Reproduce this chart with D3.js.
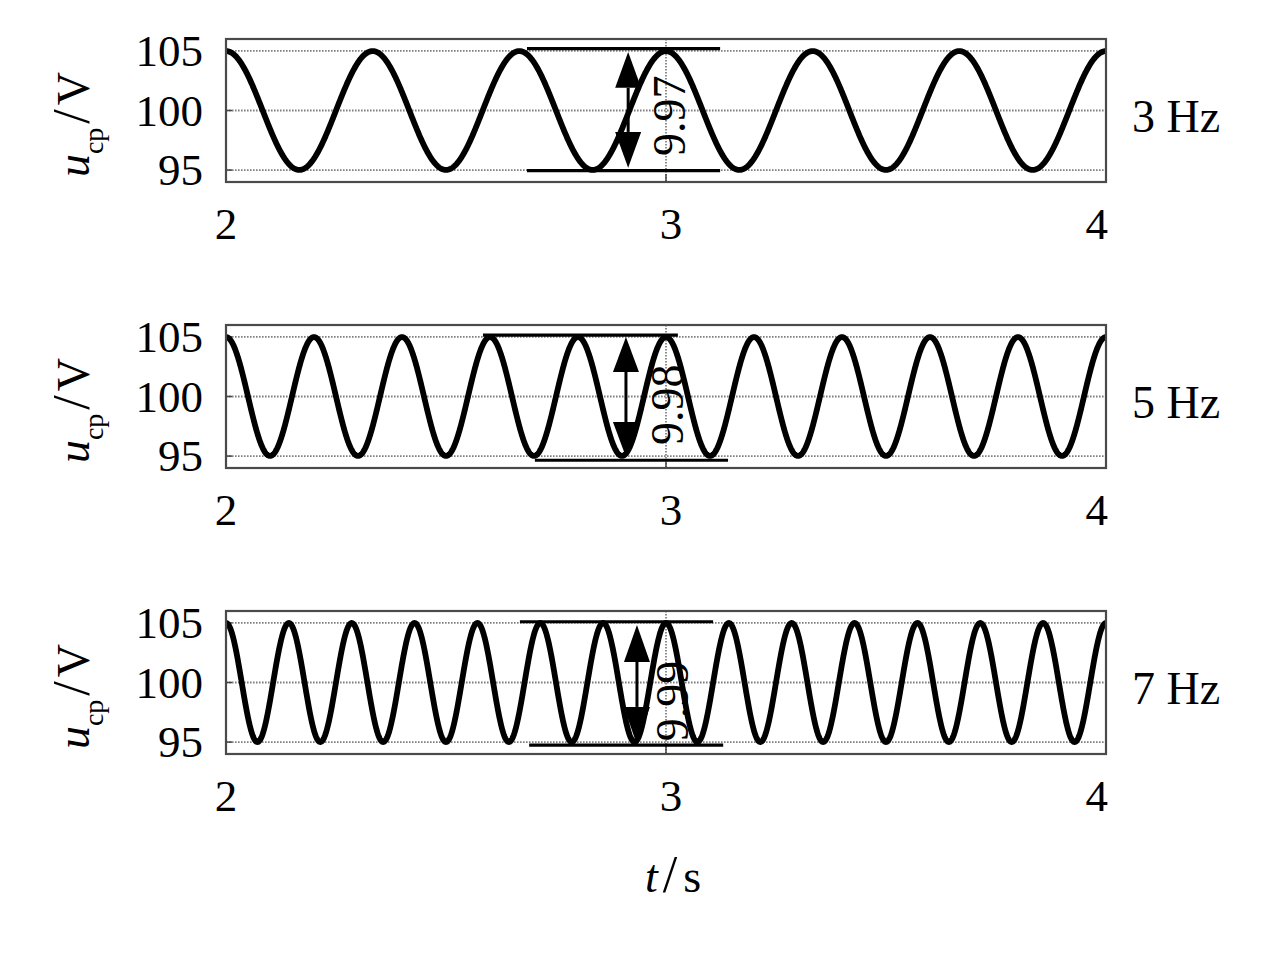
<!DOCTYPE html>
<html>
<head>
<meta charset="utf-8">
<script src="https://cdn.jsdelivr.net/npm/d3@7"></script>
<style>
  html, body { margin: 0; padding: 0; background: #fff; }
  svg { display: block; }
  text { font-family: "Liberation Serif", "Times New Roman", serif; fill: #000; }
</style>
</head>
<body>
<svg id="chart" width="1284" height="975"></svg>
<script>
// ---- data ----
const timeDomain = [2, 4];
const xTicks = [2, 3, 4];
const yTicks = [95, 100, 105];
const voltDomain = [94, 106];
const frequencies = [3, 5, 7];            // Hz
const meanVoltage = [100, 100, 100];      // V
const peakToPeak = [9.97, 9.98, 9.99];    // V
const panelLabels = ["3 Hz", "5 Hz", "7 Hz"];
const ppLabels = ["9.97", "9.98", "9.99"];
// annotation guide lines (value, t-start, t-end)
const annTopV = [105.2, 105.15, 105.1];
const annTopT0 = [2.684, 2.584, 2.668];
const annTopT1 = [3.123, 3.027, 3.107];
const annBotV = [94.95, 94.65, 94.75];
const annBotT0 = [2.684, 2.702, 2.689];
const annBotT1 = [3.123, 3.141, 3.130];
// double arrows
const arrowT = [2.914, 2.909, 2.934];
const arrowTopTip = [104.9, 105.0, 104.83];
const arrowTopBase = [101.9, 102.06, 101.72];
const arrowBotBase = [98.2, 97.86, 97.95];
const arrowBotTip = [95.2, 94.93, 94.76];
// pp label position (baseline side after rotation)
const ppLabelT = [3.043, 3.039, 3.05];
const ppLabelV = [99.55, 99.3, 98.45];

// ---- layout ----
const svg = d3.select("#chart");
const left = 226, plotW = 880, plotH = 143;
const panelTops = [39, 325, 611];

const x = d3.scaleLinear().domain(timeDomain).range([left, left + plotW]);

const sampleT = d3.range(0, 2001).map(i => timeDomain[0] + i * (timeDomain[1] - timeDomain[0]) / 2000);

svg.append("defs").append("clipPath").attr("id", "clipAll")
  .selectAll("rect").data(panelTops).join("rect")
  .attr("x", left).attr("y", d => d).attr("width", plotW).attr("height", plotH);

panelTops.forEach((top, i) => {
  const y = d3.scaleLinear().domain(voltDomain).range([top + plotH, top]);
  const g = svg.append("g");

  // horizontal dotted gridlines
  g.selectAll(".hgrid").data(yTicks).join("line")
    .attr("x1", left).attr("x2", left + plotW)
    .attr("y1", d => y(d)).attr("y2", d => y(d))
    .attr("stroke", "#808080").attr("stroke-width", 1.8)
    .attr("stroke-dasharray", "1.6,1.4");
  // vertical dotted gridline at interior ticks
  g.selectAll(".vgrid").data(xTicks.slice(1, -1)).join("line")
    .attr("x1", d => x(d)).attr("x2", d => x(d))
    .attr("y1", top).attr("y2", top + plotH)
    .attr("stroke", "#808080").attr("stroke-width", 1.8)
    .attr("stroke-dasharray", "1.6,1.4");
  // small ticks
  g.selectAll(".yt").data(yTicks).join("line")
    .attr("x1", left).attr("x2", left + 6)
    .attr("y1", d => y(d)).attr("y2", d => y(d))
    .attr("stroke", "#444").attr("stroke-width", 1.5);
  g.selectAll(".xt").data(xTicks.slice(1, -1)).join("line")
    .attr("x1", d => x(d)).attr("x2", d => x(d))
    .attr("y1", top + plotH - 8).attr("y2", top + plotH)
    .attr("stroke", "#444").attr("stroke-width", 1.5);

  // waveform
  const amp = peakToPeak[i] / 2;
  const pts = sampleT.map(t => [t, meanVoltage[i] + amp * Math.cos(2 * Math.PI * frequencies[i] * (t - timeDomain[0]))]);
  g.append("path")
    .datum(pts)
    .attr("clip-path", "url(#clipAll)")
    .attr("fill", "none").attr("stroke", "#000").attr("stroke-width", 5.8)
    .attr("stroke-linejoin", "round")
    .attr("d", d3.line().x(d => x(d[0])).y(d => y(d[1])));

  // annotation guide lines
  g.append("line")
    .attr("x1", x(annTopT0[i])).attr("x2", x(annTopT1[i]))
    .attr("y1", y(annTopV[i])).attr("y2", y(annTopV[i]))
    .attr("stroke", "#000").attr("stroke-width", 3.2);
  g.append("line")
    .attr("x1", x(annBotT0[i])).attr("x2", x(annBotT1[i]))
    .attr("y1", y(annBotV[i])).attr("y2", y(annBotV[i]))
    .attr("stroke", "#000").attr("stroke-width", 3.2);

  // double arrow
  const ax = x(arrowT[i]);
  const hw = 13;
  g.append("line")
    .attr("x1", ax).attr("x2", ax)
    .attr("y1", y(arrowTopBase[i])).attr("y2", y(arrowBotBase[i]))
    .attr("stroke", "#000").attr("stroke-width", 3);
  g.append("path")
    .attr("d", `M${ax},${y(arrowTopTip[i])}L${ax + hw},${y(arrowTopBase[i])}L${ax - hw},${y(arrowTopBase[i])}Z`)
    .attr("fill", "#000");
  g.append("path")
    .attr("d", `M${ax},${y(arrowBotTip[i])}L${ax + hw},${y(arrowBotBase[i])}L${ax - hw},${y(arrowBotBase[i])}Z`)
    .attr("fill", "#000");

  // rotated peak-to-peak label
  g.append("text")
    .attr("transform", `translate(${x(ppLabelT[i])},${y(ppLabelV[i])}) rotate(-90)`)
    .attr("text-anchor", "middle")
    .attr("font-size", 46)
    .attr("fill", "#111")
    .text(ppLabels[i]);

  // frame
  g.append("rect")
    .attr("x", left).attr("y", top).attr("width", plotW).attr("height", plotH)
    .attr("fill", "none").attr("stroke", "#4a4a4a").attr("stroke-width", 2.2);

  // y tick labels
  g.selectAll(".ytl").data(yTicks).join("text")
    .attr("x", 203).attr("y", d => y(d) + 15)
    .attr("text-anchor", "end").attr("font-size", 45)
    .text(d => d);

  // x tick labels
  g.selectAll(".xtl").data(xTicks).join("text")
    .attr("x", (d, k) => k === xTicks.length - 1 ? x(d) + 2 : x(d) + (k === 0 ? 0 : 5))
    .attr("y", top + 200)
    .attr("text-anchor", (d, k) => k === xTicks.length - 1 ? "end" : "middle")
    .attr("font-size", 45)
    .text(d => d);

  // frequency label
  g.append("text")
    .attr("x", 1132).attr("y", top + 93)
    .attr("font-size", 46)
    .text(panelLabels[i]);

  // y axis label u_cp/V
  const yl = g.append("text")
    .attr("transform", `translate(89,${top + plotH / 2 + 14}) rotate(-90)`)
    .attr("text-anchor", "middle")
    .attr("font-size", 46);
  yl.append("tspan").attr("font-style", "italic").text("u");
  yl.append("tspan").attr("font-size", 28).attr("dy", 14).text("cp");
  yl.append("tspan").attr("dy", -14).attr("dx", 4).attr("font-size", 52).text("/");
  yl.append("tspan").attr("dx", 4).text("V");
});

// x axis title t/s
const xt = svg.append("text")
  .attr("x", 673).attr("y", 892)
  .attr("text-anchor", "middle")
  .attr("font-size", 46);
xt.append("tspan").attr("font-style", "italic").text("t");
xt.append("tspan").attr("dx", 5).attr("font-size", 52).text("/");
xt.append("tspan").attr("dx", 6).text("s");
</script>
</body>
</html>
